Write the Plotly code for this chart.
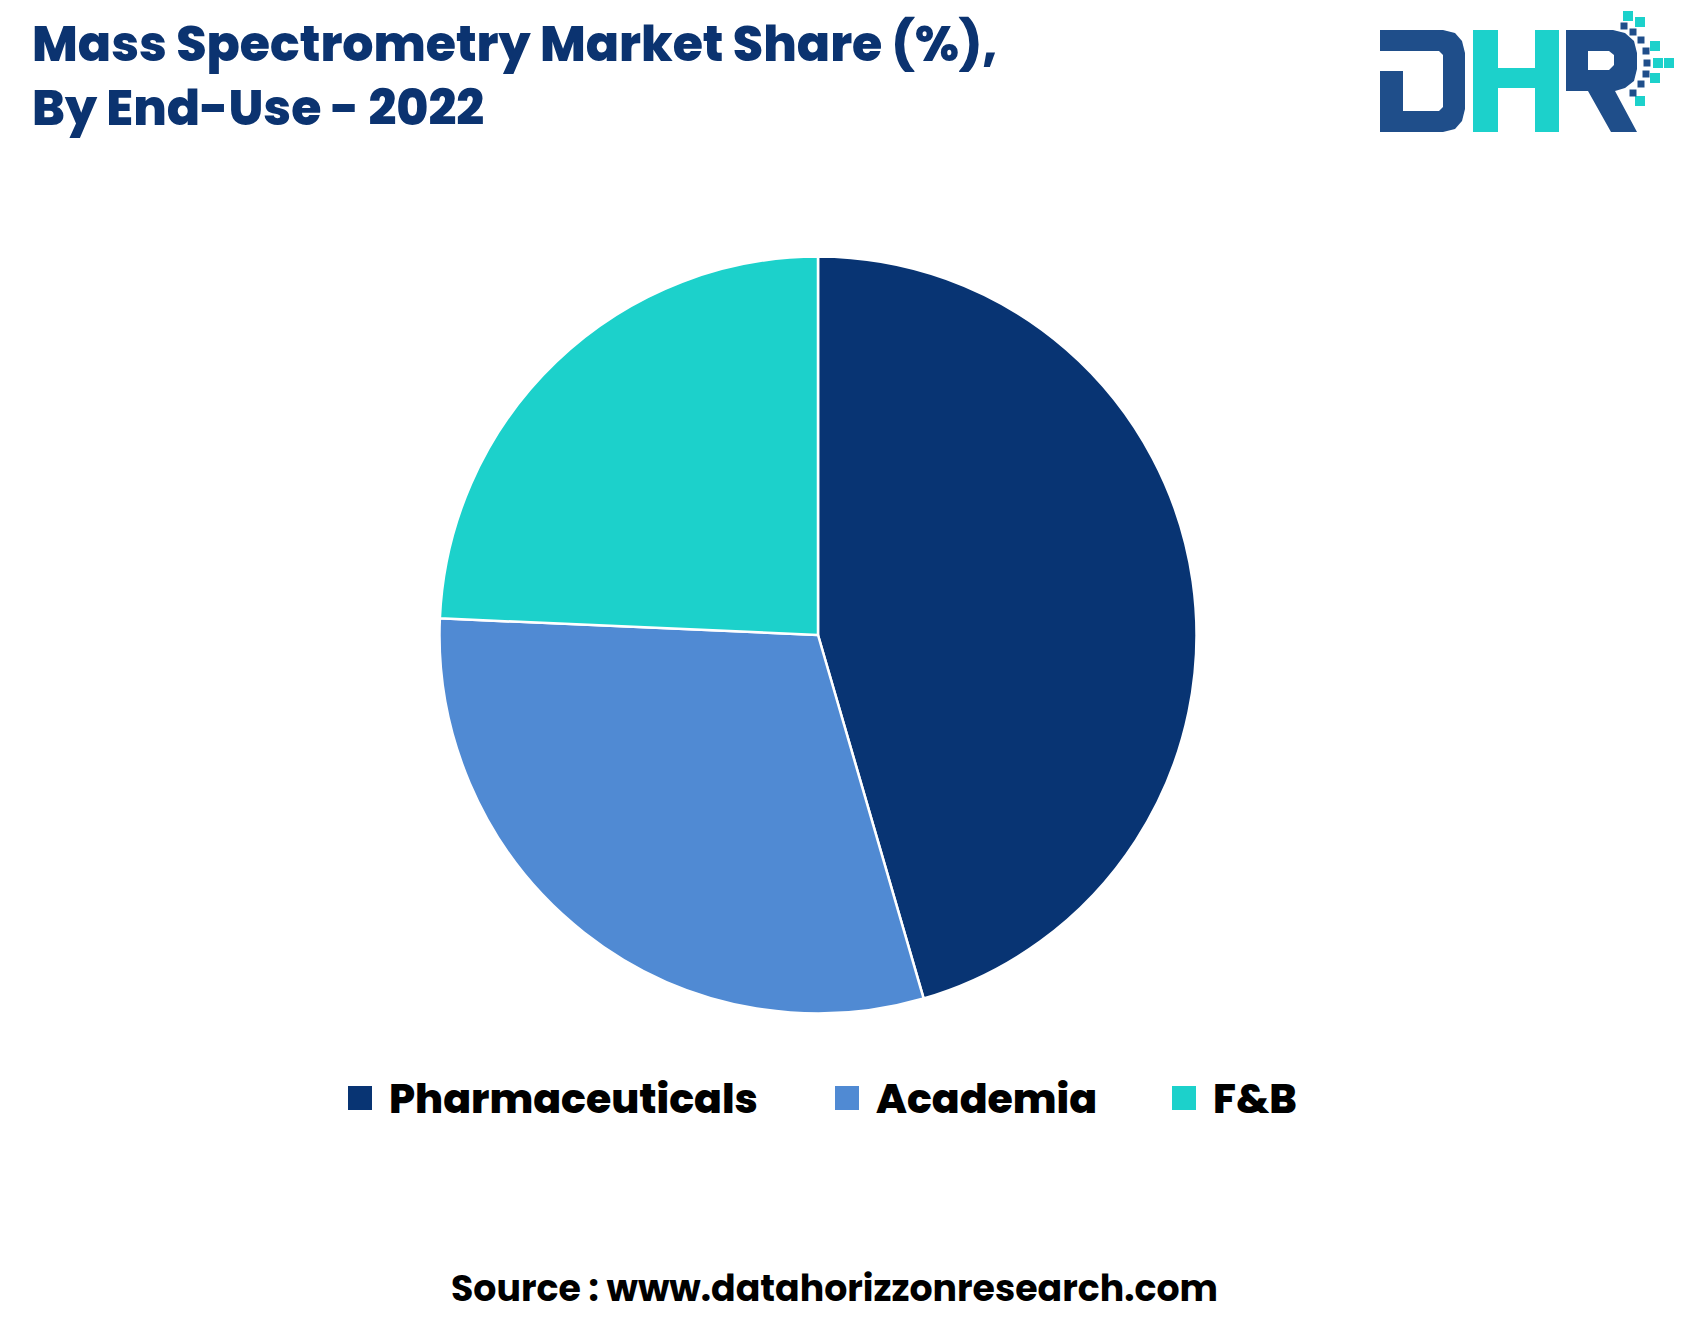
import plotly.graph_objects as go

W, H = 1686, 1333

categories = ["Pharmaceuticals", "Academia", "F&B"]
shares = [45.5, 30.2, 24.3]
colors = ["#083473", "#508AD3", "#1CD1CB"]

title_text = "Mass Spectrometry Market Share (%),<br>By End-Use - 2022"
source_text = "Source : www.datahorizzonresearch.com"

FONT = "Poppins, 'Open Sans', 'Noto Sans', sans-serif"


def px(x):
    return x / W


def py(y):
    return 1 - y / H


cx, cy, r = 810, 627, 378.5

fig = go.Figure()
fig.add_trace(go.Pie(
    labels=categories,
    values=shares,
    sort=False,
    direction="clockwise",
    rotation=0,
    marker=dict(colors=colors, line=dict(color="white", width=2.5)),
    textinfo="none",
    hoverinfo="label+percent",
    showlegend=False,
    domain=dict(x=[px(cx - r), px(cx + r)], y=[py(cy + r), py(cy - r)]),
))

shapes = []
annotations = []

# Title
annotations.append(dict(
    text=title_text, x=px(22), y=py(0), xref="paper", yref="paper",
    xanchor="left", yanchor="top", showarrow=False, align="left",
    font=dict(family=FONT, size=49, color="#0B3370", weight=800),
))

# Legend (manual, larger squares)
leg_sq_x = [340, 827, 1164]
leg_y = 1090
sq = 24
for cat, col, lx in zip(categories, colors, leg_sq_x):
    shapes.append(dict(type="rect", xref="paper", yref="paper",
                       x0=px(lx), x1=px(lx + sq), y0=py(leg_y + sq / 2), y1=py(leg_y - sq / 2),
                       fillcolor=col, line=dict(width=0)))
    annotations.append(dict(
        text=cat, x=px(lx + sq + 15), y=py(leg_y), xref="paper", yref="paper",
        xanchor="left", yanchor="middle", showarrow=False,
        font=dict(family=FONT, size=41, color="#000000", weight=800),
    ))

# Source
annotations.append(dict(
    text=source_text, x=px(826), y=py(1280), xref="paper", yref="paper",
    xanchor="center", yanchor="middle", showarrow=False,
    font=dict(family=FONT, size=36.3, color="#000000", weight=700),
))

# Logo (DHR)
dark = "#1F4E8A"
teal = "#1CD1CB"
LX, LY = -5, -5


def path(points):
    s = "M " + " L ".join(f"{px(x + LX)},{py(y + LY)}" for x, y in points) + " Z"
    return s


def rect(x0, x1, y0, y1, col):
    return dict(type="rect", xref="paper", yref="paper",
                x0=px(x0 + LX), x1=px(x1 + LX), y0=py(y1 + LY), y1=py(y0 + LY),
                fillcolor=col, line=dict(width=0))


# D with notch and rounded right side
D_outer = [(1377, 27), (1440, 27), (1452, 30), (1459, 38), (1462, 50), (1462, 106),
           (1459, 118), (1452, 126), (1440, 129), (1377, 129), (1377, 68), (1400, 68),
           (1400, 108), (1436, 108), (1440, 104), (1440, 52), (1436, 48), (1377, 48)]
shapes.append(dict(type="path", xref="paper", yref="paper", path=path(D_outer),
                   fillcolor=dark, line=dict(width=0)))
# H
for x0, x1, y0, y1 in [(1470, 1495, 27, 129), (1532, 1556, 27, 129), (1495, 1532, 65, 85)]:
    shapes.append(rect(x0, x1, y0, y1, teal))
# R
R_pts = [(1563, 27), (1610, 27), (1622, 30), (1631, 38), (1634, 50), (1634, 66), (1631, 78),
         (1622, 85), (1612, 88), (1634, 129), (1608, 129), (1585, 88), (1585, 88),
         (1585, 67), (1606, 67), (1611, 62), (1611, 52), (1606, 48), (1585, 48), (1585, 88),
         (1563, 88)]
shapes.append(dict(type="path", xref="paper", yref="paper", path=path(R_pts),
                   fillcolor=dark, line=dict(width=0)))
# dots
teal_dots = [(1625, 13), (1637, 19), (1652, 43), (1655, 60), (1666, 60), (1652, 75), (1637, 98)]
dark_dots = [(1621, 23), (1630, 29), (1638, 37), (1643, 48), (1644, 60), (1643, 71), (1638, 81), (1630, 90)]
for (x, y) in teal_dots:
    shapes.append(rect(x - 5, x + 5, y - 5, y + 5, teal))
for (x, y) in dark_dots:
    shapes.append(rect(x - 3.5, x + 3.5, y - 3.5, y + 3.5, dark))

fig.update_layout(
    width=W, height=H,
    margin=dict(l=0, r=0, t=0, b=0),
    paper_bgcolor="white", plot_bgcolor="white",
    shapes=shapes, annotations=annotations,
)

fig.write_html("out.html")
